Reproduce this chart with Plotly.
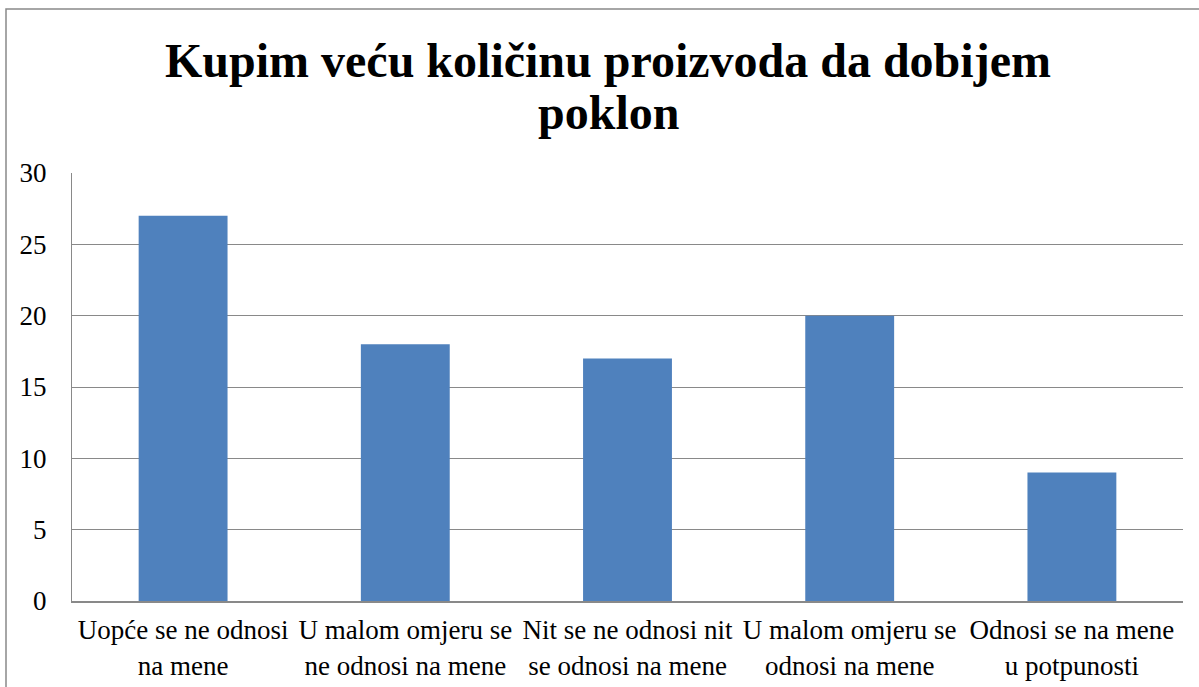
import plotly.graph_objects as go

categories = [
    "Uopće se ne odnosi<br>na mene",
    "U malom omjeru se<br>ne odnosi na mene",
    "Nit se ne odnosi nit<br>se odnosi na mene",
    "U malom omjeru se<br>odnosi na mene",
    "Odnosi se na mene<br>u potpunosti",
]
values = [27, 18, 17, 20, 9]
y_ticks = [0, 5, 10, 15, 20, 25, 30]
title_lines = ["Kupim veću količinu proizvoda da dobijem", "poklon"]

FONT = "Liberation Serif, Times New Roman, serif"
GRAY = "#898989"

fig = go.Figure()
fig.add_trace(go.Bar(x=categories, y=values, marker=dict(color="#4F81BD", line=dict(width=0)), width=0.4))

L, R, T, B = 72, 16, 173, 86
W, H = 1199, 687
pw = W - L - R
ph = H - T - B

def px_x(x):
    return (x - L) / pw

def px_y(y):
    return (H - B - y) / ph

fig.update_layout(
    width=W, height=H,
    margin=dict(l=L, r=R, t=T, b=B, pad=0),
    paper_bgcolor="white", plot_bgcolor="white",
    font=dict(family=FONT, color="black", size=27),
    showlegend=False,
    xaxis=dict(showgrid=False, showline=True, linecolor=GRAY, linewidth=2,
               ticks="", tickfont=dict(size=27, family=FONT), ticklabelstandoff=4,
               automargin=False),
    yaxis=dict(range=[0, 30], tickvals=y_ticks, showgrid=True, gridcolor=GRAY, gridwidth=1,
               showline=True, linecolor=GRAY, linewidth=1, ticks="", zeroline=False,
               tickfont=dict(size=27, family=FONT), ticklabelstandoff=19, automargin=False),
    shapes=[dict(type="rect", xref="paper", yref="paper",
                 x0=px_x(6), x1=px_x(W + 20),
                 y0=px_y(H + 20), y1=px_y(9),
                 line=dict(color=GRAY, width=1.5), layer="below")],
    annotations=[
        dict(text=title_lines[0], xref="paper", yref="paper", x=px_x(608), y=px_y(89),
             xanchor="center", yanchor="bottom", showarrow=False,
             font=dict(family=FONT, size=48, color="black", weight="bold")),
        dict(text=title_lines[1], xref="paper", yref="paper", x=px_x(608), y=px_y(141),
             xanchor="center", yanchor="bottom", showarrow=False,
             font=dict(family=FONT, size=48, color="black", weight="bold")),
    ],
)

fig.write_html("out.html", config={"displayModeBar": False},
               post_script="document.body.style.margin='0';")
